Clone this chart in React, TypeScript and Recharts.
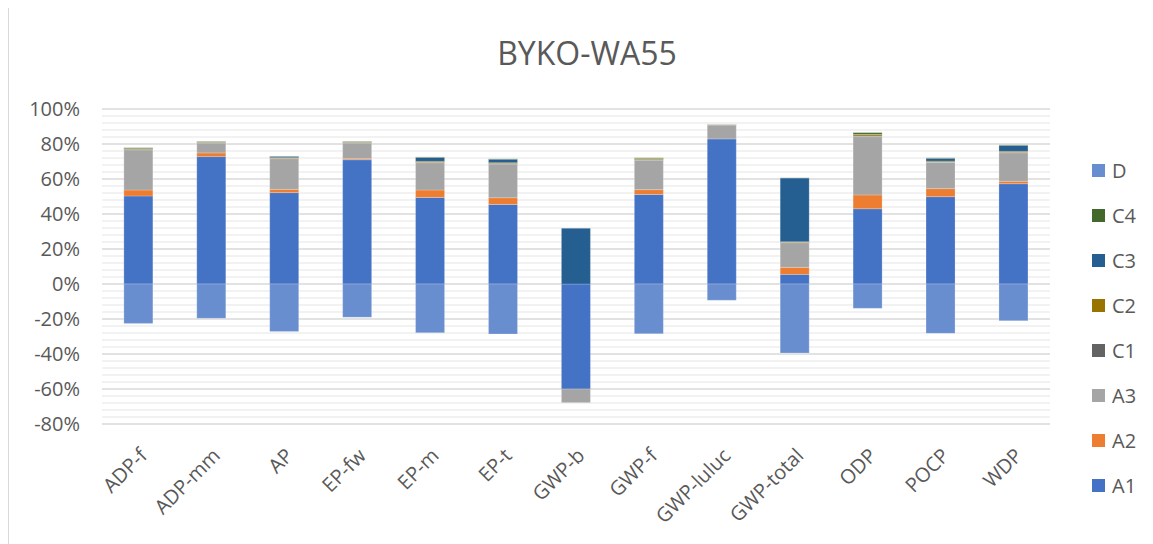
import React from 'react';
import { BarChart, Bar, XAxis, YAxis, CartesianGrid } from 'recharts';

const categories = ['ADP-f', 'ADP-mm', 'AP', 'EP-fw', 'EP-m', 'EP-t', 'GWP-b', 'GWP-f', 'GWP-luluc', 'GWP-total', 'ODP', 'POCP', 'WDP'];

const A1 = [50.3, 72.8, 52.2, 71.0, 49.5, 45.5, -60.0, 51.2, 82.9, 5.5, 43.0, 49.9, 57.3];
const A2 = [3.4, 2.1, 1.9, 0.6, 4.2, 3.8, 0, 2.7, 0, 4.0, 7.9, 4.6, 1.4];
const A3 = [23.0, 5.7, 17.5, 9.0, 15.6, 19.3, -7.8, 16.8, 8.0, 14.1, 33.3, 15.0, 16.3];
const C1 = [0.3, 0.2, 0.2, 0.2, 0.2, 0.2, 0, 0.3, 0.1, 0.2, 0.3, 0.2, 0.2];
const C2 = [0.5, 0.2, 0.4, 0.2, 0.6, 0.5, 0, 0.5, 0.1, 0.4, 0.8, 0.5, 0.6];
const C3 = [0, 0, 0.7, 0, 2.2, 2.0, 31.8, 0.2, 0, 36.4, 0.2, 1.6, 3.4];
const C4 = [0.4, 0.4, 0.2, 0.4, 0.3, 0.2, 0, 0.4, 0.1, 0.1, 1.0, 0.3, 0.3];
const D = [-22.5, -19.6, -27.2, -19.0, -27.8, -28.6, 0, -28.4, -9.3, -39.4, -13.9, -28.2, -21.0];

const seriesKeys = ['A1', 'A2', 'A3', 'C1', 'C2', 'C3', 'C4', 'D'];
const seriesValues: Record<string, number[]> = { A1, A2, A3, C1, C2, C3, C4, D };
const seriesColors: Record<string, string> = {
  A1: '#4472C4',
  A2: '#ED7D31',
  A3: '#A5A5A5',
  C1: '#636363',
  C2: '#997300',
  C3: '#255E91',
  C4: '#43682B',
  D: '#698ED0',
};

const Y_MIN = -80;
const Y_MAX = 100;
const yTicks = [-80, -60, -40, -20, 0, 20, 40, 60, 80, 100];
const minorTicks = Array.from({ length: 46 }, (_, i) => -80 + i * 4).filter((v) => v % 20 !== 0);

const title = 'BYKO-WA55';

const data = categories.map((name, i) => {
  const row: Record<string, string | number> = { name };
  seriesKeys.forEach((k) => {
    row[k] = seriesValues[k][i];
  });
  return row;
});

const FONT = '"Open Sans", sans-serif';
const TEXT = '#595959';

const XTick = (props: any) => {
  const { x, y, payload } = props;
  return (
    <g transform={`translate(${x + 5},${y + 28})`}>
      <text transform="rotate(-45)" textAnchor="end" dy="0.35em" fill={TEXT} fontSize={20} fontFamily={FONT}>
        {payload.value}
      </text>
    </g>
  );
};

const minorGenerator = (props: any) => {
  const yAxis = props && props.yAxis;
  if (yAxis && typeof yAxis.scale === 'function') {
    return minorTicks.map((v) => yAxis.scale(v));
  }
  const off = props.offset;
  return minorTicks.map((v) => off.top + (off.height * (Y_MAX - v)) / (Y_MAX - Y_MIN));
};

export default function App() {
  const legendOrder = [...seriesKeys].reverse();
  return (
    <div style={{ position: 'relative', width: 1145, height: 536, fontFamily: FONT, background: '#fff' }}>
      <div style={{ position: 'absolute', left: 0, top: 0, width: 1, height: 536, background: '#D9D9D9' }} />
      <div
        style={{
          position: 'absolute',
          left: 379,
          width: 400,
          top: 24,
          textAlign: 'center',
          fontSize: 32,
          color: TEXT,
          lineHeight: '42px',
        }}
      >
        {title}
      </div>
      <BarChart
        width={1145}
        height={536}
        data={data}
        stackOffset="sign"
        barCategoryGap="30%"
        margin={{ top: 101, right: 103, bottom: 0, left: 20 }}
      >
        <YAxis
          domain={[Y_MIN, Y_MAX]}
          ticks={yTicks}
          interval={0}
          type="number"
          width={74}
          axisLine={false}
          tickLine={false}
          tickSize={0}
          tickMargin={22}
          tickFormatter={(v: number) => `${v}%`}
          tick={{ fill: TEXT, fontSize: 20, fontFamily: FONT }}
        />
        <CartesianGrid
          vertical={false}
          stroke="#EEEEEE"
          strokeWidth={1.5}
          horizontalCoordinatesGenerator={minorGenerator}
        />
        <CartesianGrid vertical={false} stroke="#D9D9D9" strokeWidth={1.5} />
        <XAxis
          dataKey="name"
          height={120}
          axisLine={false}
          tickLine={false}
          tickSize={0}
          tickMargin={0}
          interval={0}
          tick={<XTick />}
        />
        {seriesKeys.map((k) => (
          <Bar
            key={k}
            dataKey={k}
            stackId="s"
            fill={seriesColors[k]}
            stroke="#ffffff"
            strokeOpacity={0.35}
            strokeWidth={0.6}
            isAnimationActive={false}
          />
        ))}
      </BarChart>
      <div style={{ position: 'absolute', left: 1084, top: 140 }}>
        {legendOrder.map((k) => (
          <div key={k} style={{ display: 'flex', alignItems: 'center', height: 45, fontSize: 20, color: TEXT }}>
            <span style={{ display: 'inline-block', width: 13, height: 13, background: seriesColors[k], marginRight: 7 }} />
            <span>{k}</span>
          </div>
        ))}
      </div>
    </div>
  );
}
